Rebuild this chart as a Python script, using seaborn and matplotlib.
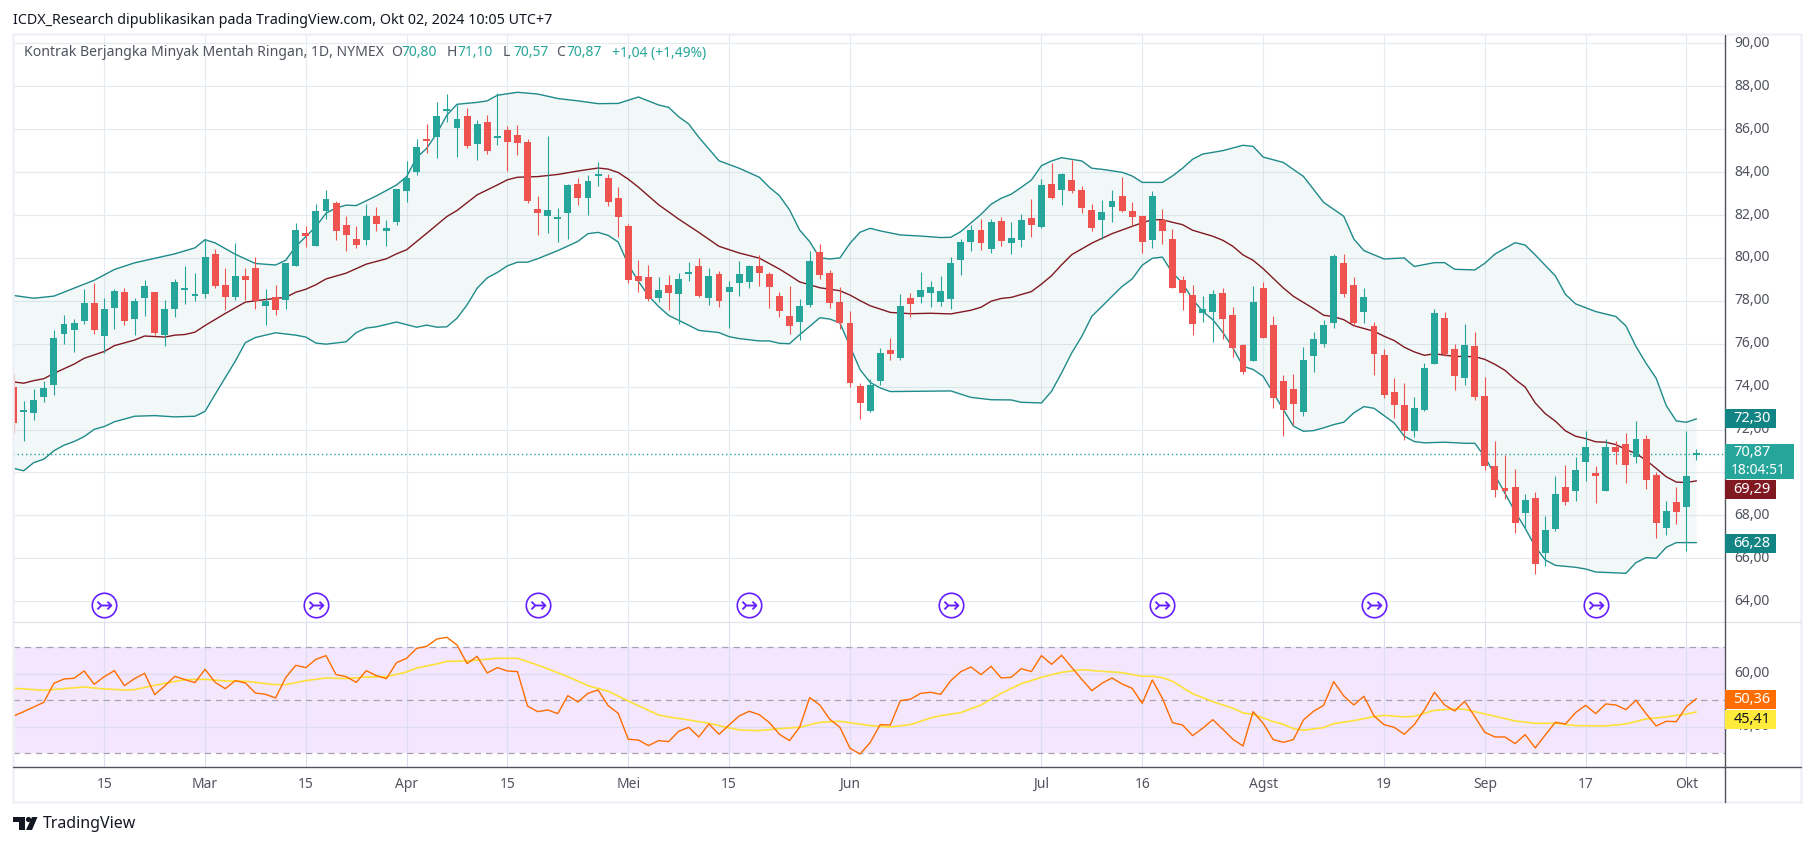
"""TradingView style crude oil chart: candles, Bollinger bands and RSI."""

import matplotlib

matplotlib.use("Agg")

import matplotlib.pyplot as plt
import numpy as np
import pandas as pd
import seaborn as sns
from matplotlib.patches import Circle, Polygon, Rectangle
from matplotlib.transforms import ScaledTranslation

opens = [
    73.97, 72.82, 72.78, 73.52, 74.08, 76.45, 76.64, 77.04, 77.88, 76.36,
    77.66, 78.39, 77.15, 78.12, 78.43, 76.40, 77.61, 78.50, 78.22, 78.31,
    80.20, 78.76, 78.17, 79.18, 79.55, 77.78, 78.16, 78.06, 79.64, 81.17,
    80.56, 82.19, 82.57, 81.54, 80.89, 80.84, 81.96, 81.26, 81.68, 83.12,
    84.01, 85.50, 85.64, 86.85, 86.06, 86.62, 85.31, 86.34, 85.59, 85.97,
    85.73, 85.41, 82.29, 81.96, 81.82, 82.10, 83.46, 82.80, 83.83, 83.74,
    82.80, 81.50, 79.17, 79.12, 78.15, 78.75, 78.33, 79.26, 79.64, 78.15,
    79.26, 78.43, 78.84, 78.89, 79.64, 79.26, 78.24, 77.31, 77.03, 77.82,
    80.29, 79.31, 77.96, 76.98, 74.05, 72.88, 74.28, 75.72, 75.35, 78.15,
    78.19, 78.38, 77.96, 78.10, 79.92, 80.75, 81.31, 80.43, 81.73, 80.71,
    80.85, 81.87, 81.45, 83.46, 83.18, 83.64, 83.18, 82.25, 81.78, 82.39,
    82.90, 82.20, 81.97, 80.85, 81.78, 80.90, 78.99, 78.29, 77.45, 77.50,
    78.38, 77.36, 75.96, 75.21, 78.61, 76.89, 74.24, 73.91, 72.84, 75.45,
    76.01, 76.98, 79.78, 78.75, 77.50, 76.84, 75.49, 73.77, 73.16, 71.91,
    72.90, 75.04, 77.18, 75.74, 74.39, 75.88, 73.55, 70.29, 69.27, 69.32,
    68.11, 68.81, 66.25, 67.36, 69.32, 69.13, 70.48, 69.97, 69.13, 71.18,
    71.32, 70.71, 71.55, 69.88, 67.41, 68.62, 68.39, 70.80,
]
highs = [
    74.57, 73.32, 73.88, 74.25, 76.62, 77.32, 77.13, 78.53, 78.81, 78.11,
    78.57, 78.62, 78.11, 78.95, 78.43, 78.06, 79.04, 79.64, 79.32, 80.85,
    80.43, 79.55, 80.71, 79.55, 80.02, 78.53, 78.76, 79.78, 81.64, 81.49,
    82.52, 83.17, 82.66, 81.96, 81.49, 82.52, 82.38, 81.77, 83.22, 84.52,
    85.55, 86.25, 87.27, 87.64, 87.13, 86.99, 86.43, 86.66, 87.69, 86.15,
    86.20, 85.55, 82.89, 85.69, 82.33, 83.45, 83.74, 83.88, 84.48, 83.92,
    83.32, 81.59, 79.92, 79.68, 79.12, 79.22, 79.31, 79.83, 80.01, 79.54,
    79.40, 78.94, 79.87, 79.68, 80.15, 79.36, 78.43, 78.70, 78.10, 80.34,
    80.66, 79.45, 78.66, 77.54, 74.19, 74.37, 75.82, 76.28, 78.33, 78.38,
    79.36, 78.94, 79.17, 80.06, 80.89, 81.55, 81.83, 81.83, 81.92, 81.69,
    82.06, 82.76, 83.69, 84.43, 83.97, 84.57, 83.36, 82.52, 82.71, 83.18,
    83.78, 82.62, 81.97, 83.13, 82.30, 81.36, 79.17, 78.75, 78.24, 78.52,
    78.61, 77.73, 76.01, 78.71, 78.89, 77.31, 74.52, 74.61, 75.87, 76.57,
    77.12, 80.20, 80.20, 79.13, 78.61, 77.03, 75.77, 74.42, 74.19, 73.54,
    75.09, 77.60, 77.46, 75.97, 76.90, 76.57, 74.43, 71.46, 70.81, 70.16,
    68.99, 69.09, 67.97, 69.83, 70.34, 70.71, 71.92, 70.29, 71.55, 71.46,
    71.83, 72.39, 71.74, 70.02, 68.67, 69.32, 71.92, 71.10,
]
lows = [
    71.84, 71.47, 72.43, 73.27, 73.61, 75.98, 75.61, 76.91, 76.45, 75.57,
    76.71, 76.85, 76.40, 77.29, 76.40, 75.89, 77.24, 77.83, 77.97, 78.11,
    78.62, 77.55, 78.02, 78.06, 77.60, 76.85, 77.36, 77.60, 79.60, 80.52,
    80.56, 81.82, 80.84, 80.33, 80.47, 80.61, 81.26, 80.56, 81.54, 82.61,
    83.87, 84.89, 84.66, 86.34, 84.71, 85.13, 84.57, 84.85, 85.27, 84.06,
    84.80, 82.57, 81.07, 81.17, 80.75, 80.89, 82.48, 82.01, 83.36, 82.43,
    80.99, 78.84, 78.43, 78.01, 77.96, 77.59, 76.93, 78.94, 78.19, 77.82,
    77.73, 76.75, 78.24, 78.61, 78.70, 77.68, 77.26, 76.47, 76.19, 77.73,
    79.03, 77.68, 76.70, 74.00, 72.51, 72.84, 74.09, 75.26, 75.26, 77.26,
    77.91, 77.73, 77.77, 77.63, 79.22, 80.34, 80.38, 80.24, 80.57, 80.20,
    80.52, 80.99, 81.41, 82.76, 82.48, 83.04, 82.11, 81.27, 80.89, 81.69,
    82.15, 81.50, 80.25, 80.48, 80.66, 78.61, 77.59, 76.43, 77.03, 76.10,
    76.24, 75.40, 74.61, 75.21, 76.29, 73.02, 71.72, 72.23, 72.61, 74.66,
    75.87, 76.75, 78.20, 76.84, 76.98, 74.56, 73.49, 72.56, 71.49, 71.63,
    72.85, 75.04, 75.41, 73.83, 74.06, 73.36, 70.11, 68.85, 68.76, 67.18,
    67.36, 65.27, 65.64, 67.27, 68.48, 68.67, 69.60, 68.57, 69.13, 70.39,
    69.50, 70.43, 69.22, 66.95, 67.08, 67.60, 66.34, 70.57,
]
closes = [
    72.31, 72.86, 73.36, 73.92, 76.25, 76.90, 76.95, 77.92, 76.64, 77.64,
    78.48, 77.05, 77.97, 78.67, 76.50, 77.64, 78.90, 78.57, 78.29, 80.02,
    78.71, 78.17, 79.18, 78.95, 77.98, 77.97, 77.57, 79.78, 81.32, 81.03,
    82.19, 82.75, 81.26, 81.07, 80.61, 81.96, 81.59, 81.40, 83.22, 83.73,
    85.17, 85.45, 86.62, 86.94, 86.48, 85.22, 86.25, 84.99, 85.69, 85.41,
    85.36, 82.66, 82.10, 82.24, 81.91, 83.40, 82.80, 83.60, 83.88, 82.62,
    81.92, 78.98, 78.94, 78.10, 78.52, 78.38, 79.03, 79.31, 78.24, 79.17,
    78.01, 78.66, 79.26, 79.64, 79.31, 78.66, 77.54, 76.84, 77.77, 79.87,
    79.22, 77.91, 76.98, 74.19, 73.25, 74.09, 75.58, 75.54, 77.77, 77.87,
    78.52, 78.66, 78.47, 79.78, 80.75, 81.31, 80.71, 81.69, 80.80, 80.94,
    81.78, 81.55, 83.41, 82.80, 83.92, 83.13, 82.34, 81.41, 82.15, 82.66,
    82.20, 81.92, 80.76, 82.90, 81.27, 78.61, 78.38, 76.94, 77.64, 78.34,
    77.17, 75.82, 74.70, 77.96, 76.29, 73.49, 72.93, 73.21, 75.26, 76.24,
    76.89, 80.11, 78.34, 76.98, 78.20, 75.54, 73.63, 73.16, 71.91, 73.02,
    74.85, 77.41, 75.50, 74.48, 75.92, 73.50, 70.29, 69.18, 69.13, 67.64,
    68.71, 65.74, 67.32, 68.99, 68.62, 70.11, 71.18, 69.83, 71.18, 70.95,
    70.34, 71.55, 69.64, 67.64, 68.20, 68.16, 69.83, 70.87,
]

upper_idx = [
    0, 2, 4, 6, 8, 10, 12, 14, 16, 18, 19, 20, 22, 24, 26, 27, 28, 30, 31, 32,
    33, 34, 36, 38, 39, 40, 41, 42, 43, 44, 46, 47, 48, 50, 52, 54, 56, 58, 60,
    62, 64, 65, 66, 67, 68, 70, 72, 74, 75, 76, 77, 78, 79, 80, 81, 82, 83, 84,
    85, 86, 88, 90, 92, 93, 94, 96, 97, 98, 99, 100, 101, 102, 103, 104, 106,
    107, 108, 110, 111, 112, 114, 115, 116, 117, 118, 120, 122, 123, 124, 126,
    128, 130, 132, 133, 134, 136, 138, 139, 141, 142, 143, 145, 146, 147, 149,
    150, 151, 153, 154, 155, 157, 159, 160, 161, 162, 163, 164, 165, 166, 167,
]
upper = [
    78.25, 78.12, 78.22, 78.59, 78.96, 79.46, 79.77, 79.98, 80.19, 80.47, 80.85,
    80.70, 80.17, 79.74, 79.67, 79.89, 80.53, 81.46, 82.08, 82.33, 82.46, 82.44,
    82.89, 83.40, 83.79, 84.68, 85.11, 85.81, 86.66, 87.16, 87.25, 87.32, 87.58,
    87.72, 87.64, 87.43, 87.32, 87.19, 87.20, 87.50, 87.13, 87.02, 86.58, 86.24,
    85.62, 84.53, 84.18, 83.76, 83.29, 82.90, 82.24, 81.30, 80.76, 80.00, 79.95,
    80.00, 80.68, 81.20, 81.38, 81.26, 81.07, 81.02, 80.95, 80.96, 81.23, 82.03,
    82.50, 82.78, 82.97, 83.29, 83.63, 84.30, 84.52, 84.67, 84.52, 84.18, 84.13,
    83.99, 83.82, 83.52, 83.52, 83.82, 84.18, 84.60, 84.84, 85.00, 85.25, 85.20,
    84.70, 84.45, 83.80, 82.59, 81.94, 80.88, 80.34, 79.95, 80.00, 79.60, 79.78,
    79.78, 79.47, 79.44, 79.75, 80.18, 80.71, 80.60, 80.14, 79.16, 78.30, 77.86,
    77.50, 77.27, 76.83, 75.87, 75.09, 74.39, 73.12, 72.40, 72.34, 72.50,
]
middle_idx = [
    0, 1, 2, 3, 4, 6, 7, 9, 10, 12, 13, 15, 16, 17, 18, 19, 21, 23, 25, 27, 28,
    29, 30, 31, 33, 35, 37, 38, 39, 41, 43, 44, 46, 48, 49, 50, 52, 54, 56, 58,
    59, 60, 61, 62, 64, 66, 68, 70, 72, 74, 76, 77, 78, 79, 80, 82, 83, 84, 85,
    87, 89, 91, 93, 95, 96, 97, 98, 99, 101, 102, 103, 104, 105, 107, 109, 111,
    112, 113, 114, 115, 116, 117, 119, 120, 121, 122, 123, 124, 126, 127, 129,
    130, 131, 132, 133, 135, 136, 137, 138, 139, 140, 141, 143, 145, 146, 147,
    148, 149, 150, 151, 152, 153, 154, 155, 156, 157, 158, 159, 160, 161, 162,
    163, 164, 165, 166, 167,
]
middle = [
    74.22, 74.16, 74.28, 74.37, 74.62, 75.05, 75.32, 75.64, 75.91, 76.17, 76.36,
    76.31, 76.40, 76.43, 76.54, 76.85, 77.41, 77.94, 78.06, 78.16, 78.40, 78.54,
    78.75, 79.02, 79.29, 79.71, 79.96, 80.19, 80.38, 81.15, 81.93, 82.21, 82.94,
    83.40, 83.64, 83.76, 83.79, 83.89, 84.05, 84.19, 84.14, 83.98, 83.67, 83.30,
    82.48, 81.81, 81.19, 80.54, 80.23, 79.99, 79.48, 79.19, 78.88, 78.75, 78.61,
    78.47, 78.27, 78.01, 77.77, 77.46, 77.40, 77.42, 77.39, 77.56, 77.70, 77.98,
    78.11, 78.16, 78.43, 78.78, 79.17, 79.68, 80.15, 80.69, 81.13, 81.47, 81.64,
    81.78, 81.78, 81.66, 81.55, 81.29, 81.01, 80.82, 80.54, 80.14, 79.89, 79.50,
    78.60, 78.21, 77.64, 77.33, 77.26, 77.12, 76.84, 76.58, 76.35, 76.15, 75.84,
    75.62, 75.46, 75.53, 75.41, 75.40, 75.27, 75.04, 74.76, 74.34, 73.98, 73.24,
    72.74, 72.39, 71.94, 71.69, 71.58, 71.43, 71.41, 71.30, 71.07, 70.88, 70.57,
    70.19, 69.80, 69.55, 69.53, 69.61,
]
lower_idx = [
    0, 1, 2, 3, 4, 5, 6, 7, 8, 9, 10, 12, 14, 16, 18, 19, 20, 22, 23, 24, 26,
    28, 29, 30, 31, 33, 34, 35, 36, 38, 40, 41, 42, 43, 44, 45, 46, 47, 48, 49,
    50, 51, 52, 54, 56, 57, 58, 59, 60, 61, 62, 63, 64, 65, 67, 68, 70, 71, 72,
    74, 75, 76, 77, 78, 79, 80, 81, 82, 83, 84, 85, 86, 87, 89, 93, 95, 97, 99,
    100, 102, 103, 104, 105, 106, 107, 108, 109, 110, 111, 112, 113, 114, 115,
    116, 117, 118, 119, 120, 121, 122, 123, 124, 125, 126, 127, 128, 129, 130,
    131, 132, 133, 134, 135, 136, 137, 138, 139, 140, 142, 144, 145, 146, 147,
    148, 149, 150, 151, 152, 153, 155, 156, 157, 159, 160, 161, 162, 163, 164,
    165, 166, 167,
]
lower = [
    70.19, 70.08, 70.46, 70.62, 71.01, 71.27, 71.44, 71.67, 72.01, 72.14, 72.36,
    72.62, 72.65, 72.59, 72.62, 72.85, 73.64, 75.19, 76.05, 76.29, 76.51, 76.40,
    76.31, 76.03, 75.98, 76.09, 76.52, 76.73, 76.79, 77.01, 76.77, 76.87, 76.77,
    76.79, 77.19, 77.81, 78.59, 79.07, 79.32, 79.63, 79.80, 79.80, 79.96, 80.34,
    80.77, 81.13, 81.19, 81.05, 80.74, 79.68, 78.91, 78.24, 77.74, 77.32, 76.86,
    76.62, 76.52, 76.33, 76.24, 76.13, 76.13, 76.02, 76.00, 76.42, 76.81, 77.21,
    77.15, 76.97, 75.88, 74.79, 74.20, 73.94, 73.77, 73.78, 73.80, 73.50, 73.39,
    73.38, 73.27, 73.24, 73.78, 74.64, 75.57, 76.34, 77.28, 77.74, 78.21, 78.67,
    79.02, 79.66, 79.98, 80.04, 79.30, 78.83, 78.06, 77.51, 77.12, 76.53, 75.80,
    74.95, 74.80, 74.48, 73.71, 72.93, 72.16, 71.92, 71.95, 72.08, 72.23, 72.34,
    72.78, 73.07, 72.99, 72.65, 72.31, 71.69, 71.44, 71.38, 71.41, 71.36, 71.36,
    70.73, 69.88, 69.02, 68.17, 67.40, 66.54, 65.92, 65.67, 65.58, 65.50, 65.36,
    65.32, 65.30, 65.80, 66.03, 66.00, 66.51, 66.73, 66.73, 66.73,
]

rsi = [
    44.09, 45.72, 47.48, 49.25, 56.42, 58.05, 58.30, 61.07, 56.04, 58.93,
    61.19, 55.53, 58.18, 60.19, 52.14, 55.41, 59.06, 57.80, 56.67, 61.70,
    56.79, 54.40, 57.42, 56.54, 52.77, 52.26, 50.88, 58.55, 63.21, 62.33,
    65.47, 66.86, 59.69, 58.93, 56.79, 61.19, 59.31, 58.18, 64.21, 65.85,
    69.62, 70.38, 73.14, 73.77, 70.88, 63.84, 66.60, 60.31, 62.33, 61.07,
    60.82, 47.86, 45.72, 46.35, 44.97, 51.76, 49.37, 52.64, 53.90, 47.99,
    45.09, 35.28, 35.03, 32.89, 34.78, 34.40, 38.30, 39.81, 36.16, 41.07,
    37.17, 40.69, 44.09, 45.85, 44.59, 41.57, 37.17, 34.78, 39.81, 51.01,
    48.24, 42.83, 39.81, 31.89, 29.75, 34.03, 40.82, 40.69, 49.87, 50.38,
    52.64, 53.02, 52.26, 57.42, 60.82, 62.58, 59.69, 62.83, 58.43, 58.68,
    61.95, 60.82, 66.86, 63.58, 66.98, 62.45, 57.92, 53.65, 56.42, 58.43,
    56.16, 54.53, 48.87, 57.67, 50.75, 41.57, 40.69, 36.67, 39.43, 42.70,
    39.06, 35.28, 32.77, 45.72, 41.32, 35.16, 34.15, 35.16, 42.58, 45.85,
    48.11, 57.04, 51.64, 48.24, 51.51, 44.09, 40.82, 39.81, 37.17, 40.82,
    46.35, 53.02, 48.24, 45.97, 49.62, 43.84, 37.92, 36.16, 36.16, 33.65,
    37.04, 32.01, 36.92, 41.70, 41.07, 45.35, 48.11, 44.97, 48.62, 48.24,
    46.48, 50.00, 44.97, 40.31, 42.08, 41.95, 47.61, 50.63,
]
rsi_ma_idx = [
    0, 3, 7, 9, 11, 12, 14, 17, 19, 21, 23, 26, 27, 29, 31, 33, 35, 37, 39, 40,
    42, 43, 45, 48, 50, 52, 55, 57, 59, 61, 64, 65, 67, 69, 71, 72, 74, 76, 78,
    80, 82, 85, 87, 89, 91, 92, 94, 96, 98, 100, 102, 104, 106, 108, 110, 112,
    113, 114, 115, 117, 119, 121, 122, 123, 125, 126, 127, 128, 130, 131, 133,
    135, 136, 138, 139, 141, 143, 144, 146, 149, 151, 153, 155, 158, 160, 162,
    164, 166, 167,
]
rsi_ma = [
    54.53, 53.77, 55.03, 54.28, 53.90, 54.03, 55.66, 57.80, 57.92, 57.30, 57.17,
    55.91, 55.91, 57.42, 58.43, 58.18, 58.81, 58.93, 60.69, 62.20, 63.71, 64.72,
    64.84, 65.85, 65.85, 63.33, 58.93, 55.53, 53.40, 49.75, 44.47, 43.71, 42.58,
    41.32, 39.56, 38.81, 38.55, 39.31, 39.81, 41.70, 42.08, 40.44, 39.94, 40.82,
    43.33, 44.21, 45.35, 48.24, 52.64, 56.29, 58.68, 60.57, 61.57, 60.94, 60.44,
    59.06, 59.06, 58.55, 57.17, 52.52, 49.50, 46.98, 45.22, 44.72, 41.95, 40.94,
    39.31, 38.68, 39.69, 41.19, 42.33, 43.84, 44.34, 43.71, 43.96, 46.23, 46.73,
    46.60, 44.84, 42.20, 41.32, 41.32, 40.44, 40.31, 41.07, 42.96, 43.71, 44.84,
    45.60,
]

price_ticks = list(range(64, 92, 2))
rsi_ticks = [40, 60]
rsi_bands = [30, 50, 70]
time_idx = [9, 19, 29, 39, 49, 61, 71, 83, 102, 112, 124, 136, 146, 156, 166]
time_labels = ["15", "Mar", "15", "Apr", "15", "Mei", "15", "Jun", "Jul", "16",
               "Agst", "19", "Sep", "17", "Okt"]
month_labels = {"Mar", "Apr", "Mei", "Jun", "Jul", "Agst", "Sep", "Okt"}
event_idx = [9, 30, 52, 73, 93, 114, 135, 157]

UP = "#26a69a"
DOWN = "#ef5350"
BAND = "#1f8a8a"
BASIS = "#801922"
GRID = "#e3ebf0"
TEXT = "#50535e"
PURPLE = "#651fff"

W, H = 1814, 846
BAR_W = 10.077
BAR_0 = 13.6
MAIN_FONT = "Noto Sans"


def rect(left, top, right, bottom):
    return [left / W, 1 - bottom / H, (right - left) / W, (bottom - top) / H]


def bar_at(px):
    return (px - BAR_0) / BAR_W


def draw_candles(ax):
    df = pd.DataFrame({"o": opens, "h": highs, "l": lows, "c": closes})
    df["i"] = df.index
    df["color"] = np.where(df["c"] >= df["o"], UP, DOWN)
    ax.vlines(df["i"], df["l"], df["h"], colors=df["color"], lw=0.8, zorder=3)
    # very small bodies still take two pixels on the original chart
    ax.bar(df["i"], (df["c"] - df["o"]).abs().clip(lower=0.09),
           bottom=df[["o", "c"]].min(axis=1), width=0.69, color=df["color"],
           linewidth=0, zorder=4)


def line(ax, x, y, color, lw, z=2.5):
    sns.lineplot(x=x, y=y, ax=ax, color=color, linewidth=lw, estimator=None,
                 legend=False, zorder=z)


def style_axis(ax):
    ax.set_xticks(time_idx)
    ax.grid(True, color=GRID, lw=0.8)
    ax.set_axisbelow(True)
    ax.tick_params(length=0, labelbottom=False, labelleft=False)
    sns.despine(ax=ax, left=True, bottom=True)


def lift_labels(ax):
    # price labels sit two pixels above their grid lines
    shift = ScaledTranslation(0, 2 / 100, ax.figure.dpi_scale_trans)
    for lab in ax.get_yticklabels():
        lab.set_transform(lab.get_transform() + shift)


def tag(ov, top, bottom, right, color, label, fg="white"):
    ov.add_patch(Rectangle((1725, top), right - 1725, bottom - top, color=color, lw=0, zorder=5))
    ov.text(1752, (top + bottom) / 2, label, color=fg, ha="center", va="center",
            fontsize=10.5, zorder=6)


sns.set_theme(style="white")
plt.rcParams["font.family"] = [MAIN_FONT, "DejaVu Sans"]

fig = plt.figure(figsize=(W / 100, H / 100), dpi=100, facecolor="white")

# price pane
ax = fig.add_axes(rect(13, 35, 1724.7, 622))
ax.set_xlim(bar_at(13), bar_at(1724.7))
ax.set_ylim(63.03, 90.39)
style_axis(ax)
ax.set_yticks(price_ticks)
ax.set_yticklabels([f"{p},00" for p in price_ticks], color=TEXT, fontsize=10)
ax.yaxis.tick_right()
ax.tick_params(axis="y", pad=7, labelright=True)
lift_labels(ax)

ax.fill(upper_idx + lower_idx[::-1], upper + lower[::-1], color="#138484", alpha=0.05, lw=0, zorder=1)
line(ax, upper_idx, upper, BAND, 1.0)
line(ax, lower_idx, lower, BAND, 1.0)
line(ax, middle_idx, middle, BASIS, 1.0)
ax.axhline(closes[-1], color=UP, lw=1.0, ls=(0, (1, 2)), zorder=2)
draw_candles(ax)

event_y = [63.83] * len(event_idx)
ax.scatter(event_idx, event_y, s=310, facecolor="white", edgecolor=PURPLE, linewidth=1.2, zorder=5)
ax.scatter(event_idx, event_y, s=120, marker=r"$\rightarrowtail$", color=PURPLE, linewidth=0.1, zorder=6)

# rsi pane
ax_rsi = fig.add_axes(rect(13, 622, 1724.7, 767))
ax_rsi.set_xlim(bar_at(13), bar_at(1724.7))
ax_rsi.set_ylim(24.83, 79.55)
style_axis(ax_rsi)
ax_rsi.set_yticks(rsi_ticks)
ax_rsi.set_yticklabels([f"{p},00" for p in rsi_ticks], color=TEXT, fontsize=10)
ax_rsi.yaxis.tick_right()
ax_rsi.tick_params(axis="y", pad=7, labelright=True)
lift_labels(ax_rsi)
ax_rsi.axhspan(rsi_bands[0], rsi_bands[2], color="#f3e6fd", lw=0, zorder=0)
for level in rsi_bands:
    ax_rsi.axhline(level, color="#a89fb0", lw=0.9, ls=(0, (5, 4)), zorder=1)
ax_rsi.grid(True, color="#dedcf0", lw=0.8)
line(ax_rsi, list(range(len(rsi))), rsi, "#ff6d00", 1.0, z=3)
line(ax_rsi, rsi_ma_idx, rsi_ma, "#fde13a", 1.2, z=2.5)
ax_rsi.set_xticklabels(time_labels, color=TEXT, fontsize=10)
ax_rsi.tick_params(axis="x", labelbottom=True, pad=7)
for lab in ax_rsi.get_xticklabels():
    if lab.get_text() in month_labels:
        lab.set_fontweight("bold")

# chrome drawn in pixel space on top of the panes
ov = fig.add_axes([0, 0, 1, 1], facecolor="none", zorder=10)
ov.set_xlim(0, W)
ov.set_ylim(H, 0)
ov.axis("off")
ov.add_patch(Rectangle((12.5, 34), 1788.5, 768, fill=False, ec="#eff1f6", lw=1.8))
ov.plot([13, 1801], [622, 622], color="#e0e3eb", lw=0.9)
ov.plot([13, 1801], [767, 767], color="#50535e", lw=1.0)
ov.plot([1724.7, 1724.7], [35, 802], color="#50535e", lw=1.0)

tag(ov, 409, 428, 1776, "#138484", "72,30")
tag(ov, 480, 499, 1776, BASIS, "69,29")
tag(ov, 534, 553, 1776, "#138484", "66,28")
tag(ov, 690, 709, 1776, "#ff6d00", "50,36")
tag(ov, 710, 729, 1776, "#ffeb3b", "45,41", fg="#131722")
ov.add_patch(Rectangle((1725, 444), 69, 35, color=UP, lw=0, zorder=5))
ov.text(1752, 453, "70,87", color="white", ha="center", va="center", fontsize=10.5, zorder=6)
ov.text(1758, 470, "18:04:51", color="white", ha="center", va="center", fontsize=10, zorder=6)

ov.text(13, 20, "ICDX_Research dipublikasikan pada TradingView.com, Okt 02, 2024 10:05 UTC+7",
        color="#131722", va="center", fontsize=10.3)
ov.text(23.5, 53, "Kontrak Berjangka Minyak Mentah Ringan, 1D, NYMEX", color=TEXT, va="center", fontsize=10.1)
for px, key, val in [(391, "O", "70,80"), (447, "H", "71,10"), (503, "L", "70,57"), (556, "C", "70,87")]:
    ov.text(px, 53, key, color=TEXT, va="center", fontsize=10)
    ov.text(px + 10, 53, val, color=UP, va="center", fontsize=10)
ov.text(612, 53, "+1,04 (+1,49%)", color=UP, va="center", fontsize=10)

# logo
ov.add_patch(Polygon([(13, 817), (25, 817), (25, 830), (19, 830), (19, 822), (13, 822)], color="#131722", lw=0))
ov.add_patch(Circle((28.5, 819.5), 2.6, color="#131722", lw=0))
ov.add_patch(Polygon([(32, 817), (37.5, 817), (32, 830), (26, 830)], color="#131722", lw=0))
ov.text(43, 824, "TradingView", color="#131722", va="center", fontsize=11.5)

fig.savefig("out.png", dpi=100, facecolor="white")
